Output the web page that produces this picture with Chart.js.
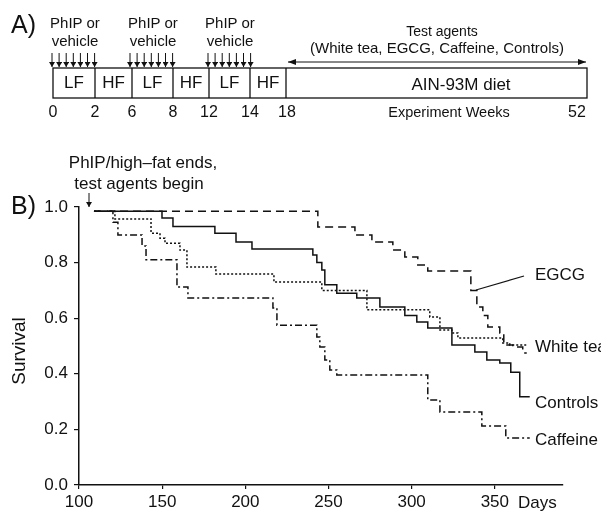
<!DOCTYPE html>
<html>
<head>
<meta charset="utf-8">
<script src="https://cdn.jsdelivr.net/npm/chart.js@4.4.1/dist/chart.umd.min.js"></script>
<style>
  html, body { margin: 0; padding: 0; background: #fff; overflow: hidden; }
  #wrap { position: relative; width: 601px; height: 514px; overflow: hidden; background: #fff; }
  #c { position: absolute; left: 0; top: 0; }
  #ov { position: absolute; left: 0; top: 0; pointer-events: none; }
  svg text { font-family: "Liberation Sans", Arial, Helvetica, sans-serif; fill: #111; }
</style>
</head>
<body>
<div id="wrap">
<canvas id="c" width="601" height="514"></canvas>
<svg id="ov" width="601" height="514" xmlns="http://www.w3.org/2000/svg">
  <defs>
    <marker id="ah" markerWidth="6" markerHeight="6" refX="5" refY="3" orient="auto" markerUnits="userSpaceOnUse">
      <path d="M0,0 L5,3 L0,6 Z" fill="#111"/>
    </marker>
    <marker id="hr" markerWidth="8" markerHeight="6" refX="8" refY="3" orient="auto-start-reverse" markerUnits="userSpaceOnUse">
      <path d="M0,0 L8,3 L0,6 Z" fill="#111"/>
    </marker>
  </defs>
  <!-- Panel A -->
  <text x="11" y="33" font-size="25">A)</text>
  <g font-size="15" text-anchor="middle">
    <text x="75" y="28">PhIP or</text><text x="75" y="46">vehicle</text>
    <text x="153" y="28">PhIP or</text><text x="153" y="46">vehicle</text>
    <text x="230" y="28">PhIP or</text><text x="230" y="46">vehicle</text>
  </g>
  <g id="arrows" stroke="#111" stroke-width="1"></g>
  <rect x="53" y="68" width="534" height="30" fill="none" stroke="#111" stroke-width="1.3"/>
  <g stroke="#111" stroke-width="1.3">
    <line x1="95" y1="68" x2="95" y2="98"/>
    <line x1="132" y1="68" x2="132" y2="98"/>
    <line x1="173" y1="68" x2="173" y2="98"/>
    <line x1="209" y1="68" x2="209" y2="98"/>
    <line x1="250" y1="68" x2="250" y2="98"/>
    <line x1="286" y1="68" x2="286" y2="98"/>
  </g>
  <g font-size="17" text-anchor="middle">
    <text x="74" y="88">LF</text>
    <text x="113.5" y="88">HF</text>
    <text x="152.5" y="88">LF</text>
    <text x="191" y="88">HF</text>
    <text x="229.5" y="88">LF</text>
    <text x="268" y="88">HF</text>
    <text x="461" y="90">AIN-93M diet</text>
  </g>
  <line x1="288" y1="62" x2="586" y2="62" stroke="#111" stroke-width="1" marker-start="url(#hr)" marker-end="url(#hr)"/>
  <g text-anchor="middle">
    <text x="442" y="36" font-size="14">Test agents</text>
    <text x="437" y="53" font-size="15">(White tea, EGCG, Caffeine, Controls)</text>
  </g>
  <g font-size="16" text-anchor="middle">
    <text x="53" y="117">0</text>
    <text x="95" y="117">2</text>
    <text x="132" y="117">6</text>
    <text x="173" y="117">8</text>
    <text x="209" y="117">12</text>
    <text x="250" y="117">14</text>
    <text x="287" y="117">18</text>
    <text x="577" y="117">52</text>
  </g>
  <text x="449" y="117" font-size="14.5" text-anchor="middle">Experiment Weeks</text>

  <!-- Panel B annotations -->
  <g font-size="17" text-anchor="middle">
    <text x="143" y="168">PhIP/high–fat ends,</text>
    <text x="139" y="189">test agents begin</text>
  </g>
  <text x="11" y="214" font-size="25">B)</text>
  <line x1="89" y1="193" x2="89" y2="207" stroke="#111" stroke-width="1" marker-end="url(#ah)"/>
  <text x="0" y="0" font-size="19" text-anchor="middle" transform="translate(25,351) rotate(-90)">Survival</text>
  <text x="518" y="508" font-size="17">Days</text>
  <line x1="476" y1="290" x2="524" y2="276" stroke="#111" stroke-width="1.2"/>
  <g font-size="17">
    <text x="535" y="280">EGCG</text>
    <text x="535" y="352">White tea</text>
    <text x="535" y="408">Controls</text>
    <text x="535" y="445">Caffeine</text>
  </g>
</svg>
</div>
<script>
// ---- Data ----
const xTickValues = [100, 150, 200, 250, 300, 350];
const yTickValues = [0, 0.2, 0.4, 0.6, 0.8, 1.0];

const egcgDays = [109, 243.6, 265.9, 276.1, 288.7, 295.9, 303.7, 309.7, 335.6, 339.2, 342.8, 345.8, 353.0, 355.4, 360.8, 366.8, 369.2];
const egcgSurv = [0.985, 0.928, 0.899, 0.874, 0.845, 0.820, 0.791, 0.770, 0.700, 0.640, 0.610, 0.568, 0.547, 0.504, 0.496, 0.475, 0.475];

const controlsDays = [109, 149.9, 156.5, 181.7, 194.4, 204.0, 240.6, 243.0, 246.0, 247.8, 255.0, 267.0, 280.9, 295.9, 303.1, 309.7, 324.2, 338.0, 345.2, 353.0, 359.6, 365.0, 371.0];
const controlsSurv = [0.985, 0.960, 0.930, 0.906, 0.874, 0.849, 0.827, 0.800, 0.773, 0.720, 0.690, 0.673, 0.640, 0.610, 0.586, 0.565, 0.504, 0.478, 0.450, 0.439, 0.406, 0.317, 0.317];

const whiteTeaDays = [109, 121.6, 143.3, 148.7, 151.7, 160.7, 164.9, 182.3, 217.2, 246.0, 273.1, 310.9, 317.0, 324.2, 327.8, 354.8, 359.0, 369.5];
const whiteTeaSurv = [0.985, 0.957, 0.906, 0.888, 0.870, 0.845, 0.784, 0.759, 0.730, 0.700, 0.630, 0.604, 0.558, 0.547, 0.529, 0.511, 0.504, 0.504];

const caffeineDays = [109, 120.4, 123.4, 137.9, 140.3, 158.9, 165.5, 216.6, 219.0, 243.0, 244.8, 247.8, 250.8, 255.0, 309.7, 317.0, 342.2, 356.6, 371.0];
const caffeineSurv = [0.985, 0.945, 0.899, 0.860, 0.810, 0.712, 0.673, 0.637, 0.575, 0.532, 0.496, 0.450, 0.414, 0.396, 0.306, 0.263, 0.212, 0.169, 0.169];

// dosing arrows for panel A (schematic)
(function () {
  const g = document.getElementById('arrows');
  const starts = [52, 130, 208];
  starts.forEach(s => {
    for (let i = 0; i < 7; i++) {
      const x = s + i * 7.1;
      const l = document.createElementNS('http://www.w3.org/2000/svg', 'line');
      l.setAttribute('x1', x); l.setAttribute('x2', x);
      l.setAttribute('y1', 53); l.setAttribute('y2', 67);
      l.setAttribute('marker-end', 'url(#ah)');
      g.appendChild(l);
    }
  });
})();

function pts(days, surv) { return days.map((d, i) => ({ x: d, y: surv[i] })); }

const ink = '#111';
const FONT = '"Liberation Sans", Arial, Helvetica, sans-serif';

new Chart(document.getElementById('c'), {
  type: 'line',
  data: {
    datasets: [
      { label: 'Caffeine', data: pts(caffeineDays, caffeineSurv), borderDash: [7, 3, 2, 3] },
      { label: 'White tea', data: pts(whiteTeaDays, whiteTeaSurv), borderDash: [2, 2] },
      { label: 'Controls', data: pts(controlsDays, controlsSurv), borderDash: [] },
      { label: 'EGCG', data: pts(egcgDays, egcgSurv), borderDash: [8, 5] }
    ].map(d => Object.assign(d, {
      stepped: true, borderColor: ink, borderWidth: 1.5, pointRadius: 0,
      fill: false, clip: 6, tension: 0
    }))
  },
  options: {
    responsive: false,
    animation: false,
    devicePixelRatio: 1,
    layout: { padding: { left: 0, top: 207, right: 38, bottom: 0 } },
    plugins: { legend: { display: false }, tooltip: { enabled: false } },
    scales: {
      x: {
        type: 'linear', min: 100, max: 391,
        afterBuildTicks: s => { s.ticks = xTickValues.map(v => ({ value: v })); },
        afterFit: s => { s.height = 29; },
        grid: { drawOnChartArea: false, drawTicks: true, tickLength: 4, color: ink, lineWidth: 1.2 },
        border: { display: true, color: ink, width: 1.5 },
        ticks: { color: ink, font: { family: FONT, size: 17 }, padding: 3, maxRotation: 0 }
      },
      y: {
        type: 'linear', min: 0, max: 1,
        afterBuildTicks: s => { s.ticks = yTickValues.map(v => ({ value: v })); },
        afterFit: s => { s.width = 79; },
        grid: { drawOnChartArea: false, drawTicks: true, tickLength: 5, color: ink, lineWidth: 1.2 },
        border: { display: true, color: ink, width: 1.5 },
        ticks: { color: ink, font: { family: FONT, size: 17 }, padding: 6, callback: v => Number(v).toFixed(1) }
      }
    }
  }
});
</script>
</body>
</html>
